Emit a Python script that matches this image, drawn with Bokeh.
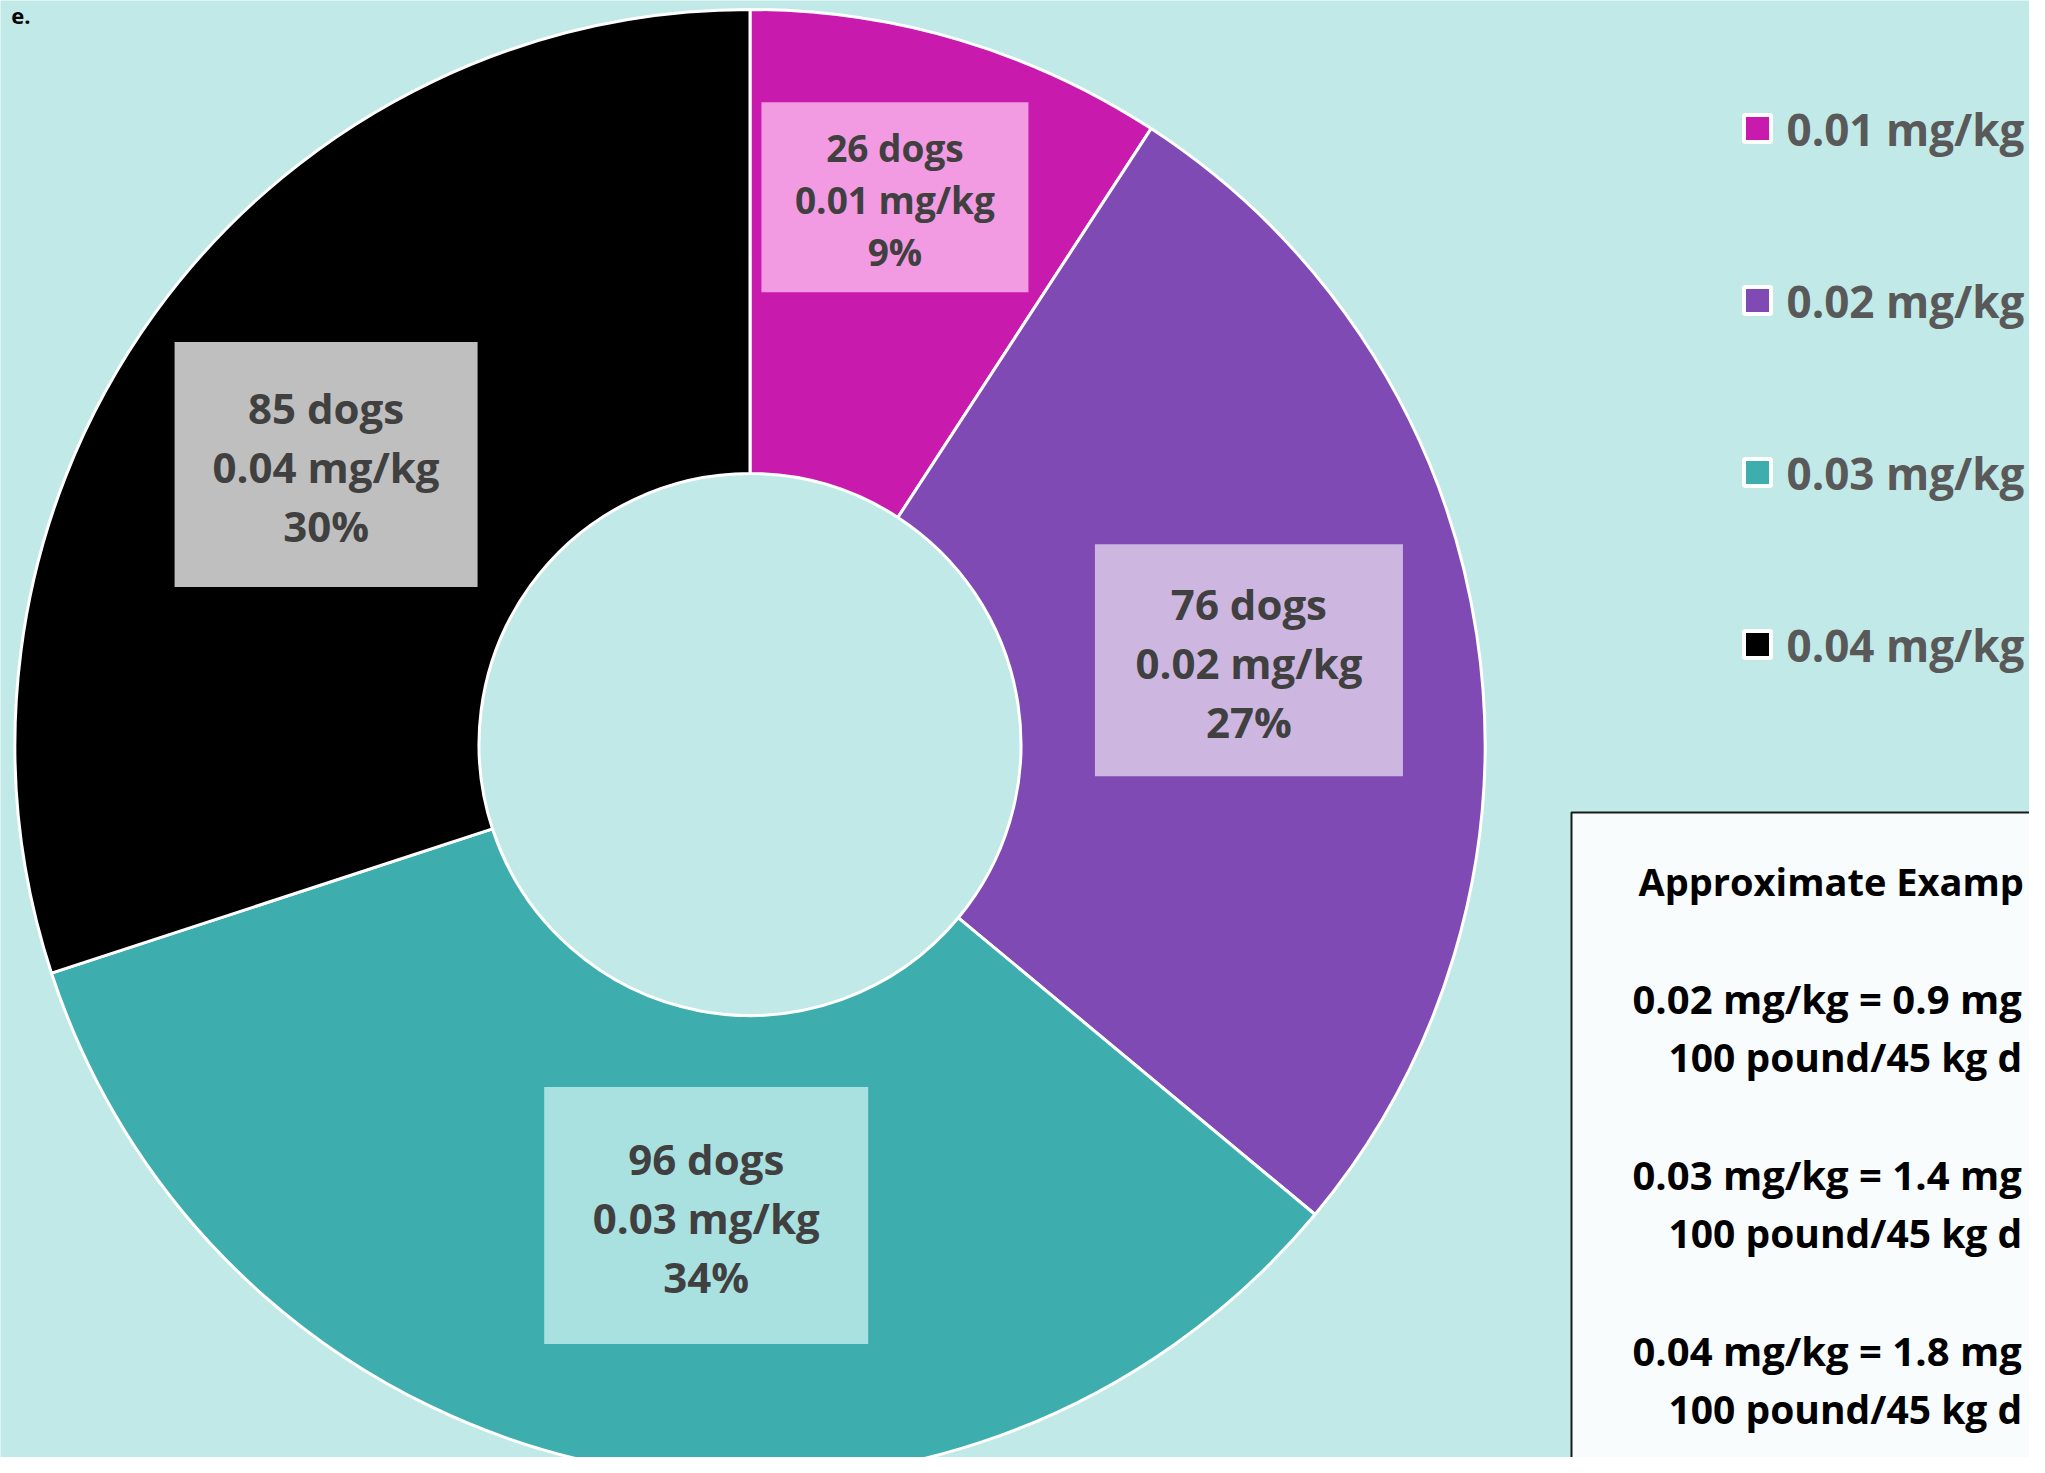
import numpy as np
from bokeh.plotting import figure
from bokeh.models import ColumnDataSource, Range1d
from bokeh.embed import file_html
from bokeh.resources import INLINE
from bokeh.core.properties import value

# ---------------- data ----------------
doses = ["0.01 mg/kg", "0.02 mg/kg", "0.03 mg/kg", "0.04 mg/kg"]
dogs = [26, 76, 96, 85]
slice_colors = ["#C81BAE", "#7F4AB4", "#3EADAD", "#000000"]
box_colors = ["#F29AE2", "#CDB7E1", "#A9E1E0", "#BFBFBF"]

# the reference shows this note box cropped at its right edge
note_title = "Approximate Examp"
note_dose_lines = ["0.02 mg/kg = 0.9 mg", "0.03 mg/kg = 1.4 mg", "0.04 mg/kg = 1.8 mg"]
note_weight_lines = ["100 pound/45 kg d", "100 pound/45 kg d", "100 pound/45 kg d"]
corner_text = "e."

# ---------------- layout ----------------
PAGE_W, PAGE_H, M = 2045, 1473, 8
FIG_W, FIG_H = PAGE_W - 2 * M, PAGE_H - 2 * M
BG = "#C1E9E7"
FONT = "Open Sans"


def Y(y):
    return PAGE_H - y


CX, CY = 749.5, Y(744)
R_OUT, R_IN = 735, 271

p = figure(width=FIG_W, height=FIG_H,
           x_range=Range1d(0, FIG_W), y_range=Range1d(PAGE_H - FIG_H, PAGE_H),
           x_axis_type=None, y_axis_type=None, toolbar_location=None,
           output_backend="svg", min_border=0)
p.background_fill_color = BG
p.border_fill_color = BG
p.outline_line_color = None
p.grid.visible = False

# ---------------- donut ----------------
total = float(sum(dogs))
frac = np.array(dogs) / total
cum_end = np.cumsum(frac)
cum_start = cum_end - frac
start_angle = np.pi / 2 - 2 * np.pi * cum_start
end_angle = np.pi / 2 - 2 * np.pi * cum_end

src = ColumnDataSource(dict(dose=doses, dogs=dogs, color=slice_colors,
                            start=start_angle, end=end_angle))
p.annular_wedge(x=CX, y=CY, inner_radius=R_IN, outer_radius=R_OUT,
                start_angle="start", end_angle="end", direction="clock",
                fill_color="color", line_color="white", line_width=3, source=src)

# ---------------- data labels ----------------
label_r = [566, 506, 473, 508]
label_nudge_deg = [-1.7, -1.0, -5.5, -2.5]
box_w = [267, 308, 324, 303]
box_h = [190, 232, 257, 245]
label_fs = [37, 42, 42, 42]

mid_deg = 360 * (cum_start + frac / 2) + np.array(label_nudge_deg)
th = np.radians(mid_deg)
bx = CX + np.array(label_r) * np.sin(th)
by = CY + np.array(label_r) * np.cos(th)

p.rect(x=bx, y=by, width=box_w, height=box_h, fill_color=box_colors, line_color=None)

pct = [f"{round(100 * d / total)}%" for d in dogs]
line1 = [f"{d} dogs" for d in dogs]
fs = np.array(label_fs, dtype=float)
for k, texts in enumerate([line1, doses, pct]):
    ys = by - 2 + (1 - k) * 1.4 * fs
    lsrc = ColumnDataSource(dict(x=bx, y=ys, t=texts, fs=[f"{int(f)}px" for f in fs]))
    p.text(x="x", y="y", text="t", source=lsrc, text_font=value(FONT),
           text_font_style="bold", text_font_size="fs", text_color="#404040",
           text_align="center", text_baseline="middle")

# ---------------- legend ----------------
leg_x, leg_y0, leg_dy = 1757, 128, 172
leg_ys = [Y(leg_y0 + i * leg_dy) for i in range(len(doses))]
p.rect(x=[leg_x] * len(doses), y=leg_ys, width=27, height=27,
       fill_color=slice_colors, line_color="white", line_width=4)
p.text(x=[1786] * len(doses), y=leg_ys, text=doses, text_font=value(FONT),
       text_font_style="bold", text_font_size="44px", text_color="#595959",
       text_align="left", text_baseline="middle")

# ---------------- note box ----------------
p.quad(left=1571, right=2150, top=Y(812), bottom=Y(1467),
       fill_color="#F8FCFD", line_color="#1A1A1A", line_width=2)
p.text(x=[1638], y=[Y(880)], text=[note_title], text_font=value(FONT),
       text_font_style="bold", text_font_size="38px", text_color="#000000",
       text_align="left", text_baseline="middle")
dose_y = [Y(998), Y(1174), Y(1350)]
wt_y = [Y(1056), Y(1232), Y(1408)]
p.text(x=[1632] * 3, y=dose_y, text=note_dose_lines, text_font=value(FONT),
       text_font_style="bold", text_font_size="40px", text_color="#000000",
       text_align="left", text_baseline="middle")
p.text(x=[1668] * 3, y=wt_y, text=note_weight_lines, text_font=value(FONT),
       text_font_style="bold", text_font_size="39px", text_color="#000000",
       text_align="left", text_baseline="middle")

# ---------------- title fragment at the top-left corner ----------------
p.text(x=[30], y=[Y(16)], text=[corner_text], text_font=value(FONT),
       text_font_style="bold", text_font_size="22px", text_color="#000000",
       text_align="right", text_baseline="middle")

open("out.html", "w").write(file_html(p, INLINE))
